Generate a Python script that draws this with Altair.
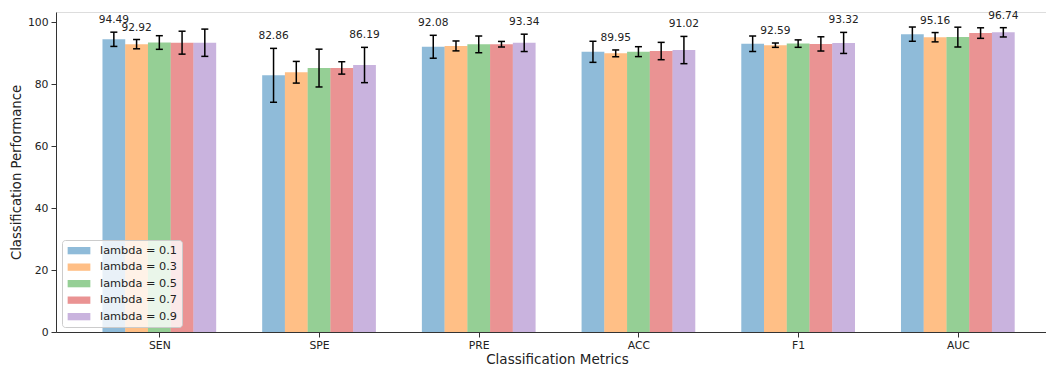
import altair as alt
import pandas as pd

metrics = ["SEN", "SPE", "PRE", "ACC", "F1", "AUC"]
series_names = ["lambda = 0.1", "lambda = 0.3", "lambda = 0.5", "lambda = 0.7", "lambda = 0.9"]
colors = ["#1f77b4", "#ff7f0e", "#2ca02c", "#d62728", "#9467bd"]

mean_l01 = [94.49, 82.86, 92.08, 90.45, 93.05, 96.15]
mean_l03 = [92.92, 83.85, 92.35, 89.95, 92.59, 95.16]
mean_l05 = [93.45, 85.20, 92.85, 90.50, 93.10, 95.20]
mean_l07 = [93.40, 85.25, 92.90, 90.70, 93.00, 96.50]
mean_l09 = [93.38, 86.19, 93.34, 91.02, 93.32, 96.74]

std_l01 = [2.3, 8.7, 3.7, 3.4, 2.5, 2.3]
std_l03 = [1.5, 3.5, 1.6, 1.1, 0.7, 1.5]
std_l05 = [2.2, 6.1, 2.7, 1.6, 1.2, 3.2]
std_l07 = [3.7, 2.0, 0.9, 2.8, 2.3, 1.7]
std_l09 = [4.4, 5.7, 2.8, 4.4, 3.4, 1.5]

means = [mean_l01, mean_l03, mean_l05, mean_l07, mean_l09]
stds = [std_l01, std_l03, std_l05, std_l07, std_l09]

BAR_W = 0.1424
CAP = 0.022

rows = []
for i, m in enumerate(metrics):
    group_vals = [means[k][i] for k in range(len(series_names))]
    gmin, gmax = min(group_vals), max(group_vals)
    for k, s in enumerate(series_names):
        v = means[k][i]
        e = stds[k][i]
        xc = i + (k - 2) * BAR_W
        rows.append(dict(
            metric=m, series=s, value=v, err=e,
            xc=xc, x0=xc - BAR_W / 2, x1=xc + BAR_W / 2,
            cl=xc - CAP, cr=xc + CAP,
            lo=v - e, hi=v + e, zero=0.0,
            label=f"{v:.2f}" if (v == gmin or v == gmax) else "",
        ))
df = pd.DataFrame(rows)

label_expr = "[" + ",".join(f"'{m}'" for m in metrics) + "][datum.value]"

xscale = alt.Scale(domain=[-0.647, 5.552], nice=False, zero=False)
yscale = alt.Scale(domain=[0, 103.3], nice=False)

x_axis = alt.Axis(values=list(range(len(metrics))), labelExpr=label_expr,
                  title="Classification Metrics", grid=False, tickSize=5,
                  labelPadding=2.5, labelFontSize=10.8, titleFontSize=13.5,
                  titleFontWeight="normal", titlePadding=2.5, titleX=501,
                  titleAnchor="start", titleAlign="center")
y_axis = alt.Axis(values=[0, 20, 40, 60, 80, 100], title="Classification Performance",
                  grid=False, tickSize=5, labelPadding=3, labelFontSize=10.8,
                  titleFontSize=13.2, titleFontWeight="normal", titlePadding=3.5)

symbol_path = "M-1,-0.73L3.54,-0.73L3.54,0.73L-1,0.73Z"

base = alt.Chart(df)

bars = base.mark_bar(opacity=0.5, clip=True).encode(
    x=alt.X("x0:Q", scale=xscale, axis=x_axis),
    x2="x1:Q",
    y=alt.Y("value:Q", scale=yscale, axis=y_axis),
    y2="zero:Q",
    color=alt.Color("series:N", scale=alt.Scale(domain=series_names, range=colors),
                    legend=alt.Legend(orient="none", legendX=6, legendY=228, title=None,
                                      symbolType=symbol_path, symbolSize=100,
                                      symbolOpacity=0.5, symbolStrokeWidth=0,
                                      labelFontSize=11.3, labelOffset=21.7,
                                      rowPadding=4.5, padding=5,
                                      fillColor="rgba(255,255,255,0.8)",
                                      strokeColor="#cccccc", cornerRadius=3,
                                      labelColor="#222222")),
)

err_v = base.mark_rule(color="black", strokeWidth=1.5).encode(
    x=alt.X("xc:Q", scale=xscale), y=alt.Y("lo:Q", scale=yscale), y2="hi:Q"
)
cap_top = base.mark_rule(color="black", strokeWidth=1.5).encode(
    x=alt.X("cl:Q", scale=xscale), x2="cr:Q", y=alt.Y("hi:Q", scale=yscale)
)
cap_bot = base.mark_rule(color="black", strokeWidth=1.5).encode(
    x=alt.X("cl:Q", scale=xscale), x2="cr:Q", y=alt.Y("lo:Q", scale=yscale)
)
labels = base.mark_text(baseline="alphabetic", dy=-9, fontSize=10.6, color="#222222").encode(
    x=alt.X("xc:Q", scale=xscale), y=alt.Y("hi:Q", scale=yscale), text="label:N"
)

chart = alt.layer(bars, err_v, cap_top, cap_bot, labels).properties(
    width=990, height=320,
    autosize=alt.AutoSizeParams(type="none"),
    padding={"left": 48, "top": 4, "right": 0, "bottom": 34},
).configure_view(stroke=None).configure(
    font="DejaVu Sans"
).configure_axis(
    domainColor="#333333", tickColor="#333333", labelColor="#222222",
    titleColor="#222222", labelFont="DejaVu Sans", titleFont="DejaVu Sans"
).configure_legend(labelFont="DejaVu Sans")

chart.save("out.html", embed_options={"renderer": "svg", "actions": False})
